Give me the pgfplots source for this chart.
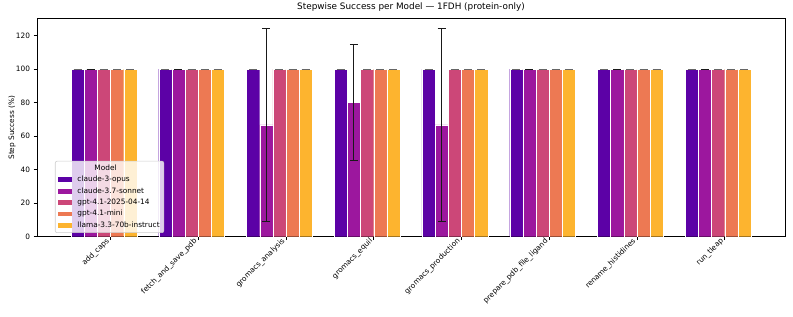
\documentclass[border=0pt]{standalone}
\usepackage{fontspec}
\setmainfont{DejaVu Sans}
\usepackage{pgfplots}
\pgfplotsset{compat=1.18}
\definecolor{c1}{HTML}{5C01A6}
\definecolor{c2}{HTML}{9C179E}
\definecolor{c3}{HTML}{CC4778}
\definecolor{c4}{HTML}{ED7953}
\definecolor{c5}{HTML}{FDB42F}
\pgfplotsset{
  zeroerr/.style={error bars/.cd, y dir=both, y explicit,
    error bar style={black!60, line width=0.9bp},
    error mark options={black!60, line width=0.9bp, mark size=4bp, rotate=90}},
}
\begin{document}
\begin{tikzpicture}
\path[use as bounding box] (-37bp,-80.3bp) rectangle (756bp,236.7bp);
\begin{axis}[
  at={(0,0)}, anchor=south west,
  scale only axis, width=748bp, height=218bp,
  xmin=-0.8375, xmax=7.6875, ymin=0, ymax=130,
  xtick={0,...,7},
  xticklabels={add\_caps, fetch\_and\_save\_pdb, gromacs\_analysis, gromacs\_equil, gromacs\_production, prepare\_pdb\_file\_ligand, rename\_histidines, run\_tleap},
  ytick={0,20,...,120},
  tick align=outside, tick pos=left, major tick length=3.5bp,
  tick style={black, line width=0.8bp},
  axis line style={line width=0.8bp},
  font=\fontsize{7.4}{8.5}\selectfont,
  ticklabel style={font=\fontsize{7.4}{8.5}\selectfont},
  /pgf/number format/assume math mode=true,
  xticklabel style={yshift=1bp, xshift=-1.5bp, rotate=45, anchor=east, inner sep=1bp},
  ylabel={Step Success (\%)},
  ylabel style={at={(axis description cs:-0.0334,0.5)}, anchor=center},
  title={Stepwise Success per Model — 1FDH (protein-only)},
  title style={font=\fontsize{8.9}{10}\selectfont, at={(axis description cs:0.5,1)}, anchor=base, yshift=3.7bp, inner sep=0pt},
  ybar, bar width=0.15,
  legend cell align=left,
  legend style={at={(0.024,0.017)}, anchor=south west, fill=white, fill opacity=0.8, draw opacity=1, text opacity=1, draw=black!20, line width=0.6bp, rounded corners=2bp, font=\fontsize{7.4}{8.5}\selectfont, inner xsep=3bp, inner ysep=2.5bp, row sep=1.8bp, column sep=4bp, nodes={inner sep=1.2bp, text height=5.6bp, text depth=1.6bp}},
  legend image code/.code={\fill[#1, fill opacity=1, draw=none, sharp corners] (0bp,-2.4bp) rectangle (14bp,2.4bp);},
]
\addlegendimage{empty legend}
\addlegendentry{\hspace*{17bp}Model}

\addplot[fill=c1, draw=white, line width=0.25bp, bar shift=-0.375, zeroerr]
coordinates {(0,100) +- (0,0) (1,100) +- (0,0) (2,100) +- (0,0) (3,100) +- (0,0) (4,100) +- (0,0) (5,100) +- (0,0) (6,100) +- (0,0) (7,100) +- (0,0)};
\addlegendentry{claude-3-opus}

\addplot[fill=c2, draw=white, line width=0.25bp, bar shift=-0.225,
  error bars/.cd, y dir=both, y explicit,
  error bar style={black!90, line width=1bp}, error mark options={black!90, line width=1bp, mark size=4bp, rotate=90}]
coordinates {(0,100) +- (0,0) (1,100) +- (0,0) (2,66.67) +- (0,57.74) (3,80) +- (0,34.64) (4,66.67) +- (0,57.74) (5,100) +- (0,0) (6,100) +- (0,0) (7,100) +- (0,0)};
\addlegendentry{claude-3.7-sonnet}

\addplot[fill=c3, draw=white, line width=0.25bp, bar shift=-0.075, zeroerr]
coordinates {(0,100) +- (0,0) (1,100) +- (0,0) (2,100) +- (0,0) (3,100) +- (0,0) (4,100) +- (0,0) (5,100) +- (0,0) (6,100) +- (0,0) (7,100) +- (0,0)};
\addlegendentry{gpt-4.1-2025-04-14}

\addplot[fill=c4, draw=white, line width=0.25bp, bar shift=0.075, zeroerr]
coordinates {(0,100) +- (0,0) (1,100) +- (0,0) (2,100) +- (0,0) (3,100) +- (0,0) (4,100) +- (0,0) (5,100) +- (0,0) (6,100) +- (0,0) (7,100) +- (0,0)};
\addlegendentry{gpt-4.1-mini}

\addplot[fill=c5, draw=white, line width=0.25bp, bar shift=0.225, zeroerr]
coordinates {(0,100) +- (0,0) (1,100) +- (0,0) (2,100) +- (0,0) (3,100) +- (0,0) (4,100) +- (0,0) (5,100) +- (0,0) (6,100) +- (0,0) (7,100) +- (0,0)};
\addlegendentry{llama-3.3-70b-instruct}
\end{axis}
\end{tikzpicture}
\end{document}
